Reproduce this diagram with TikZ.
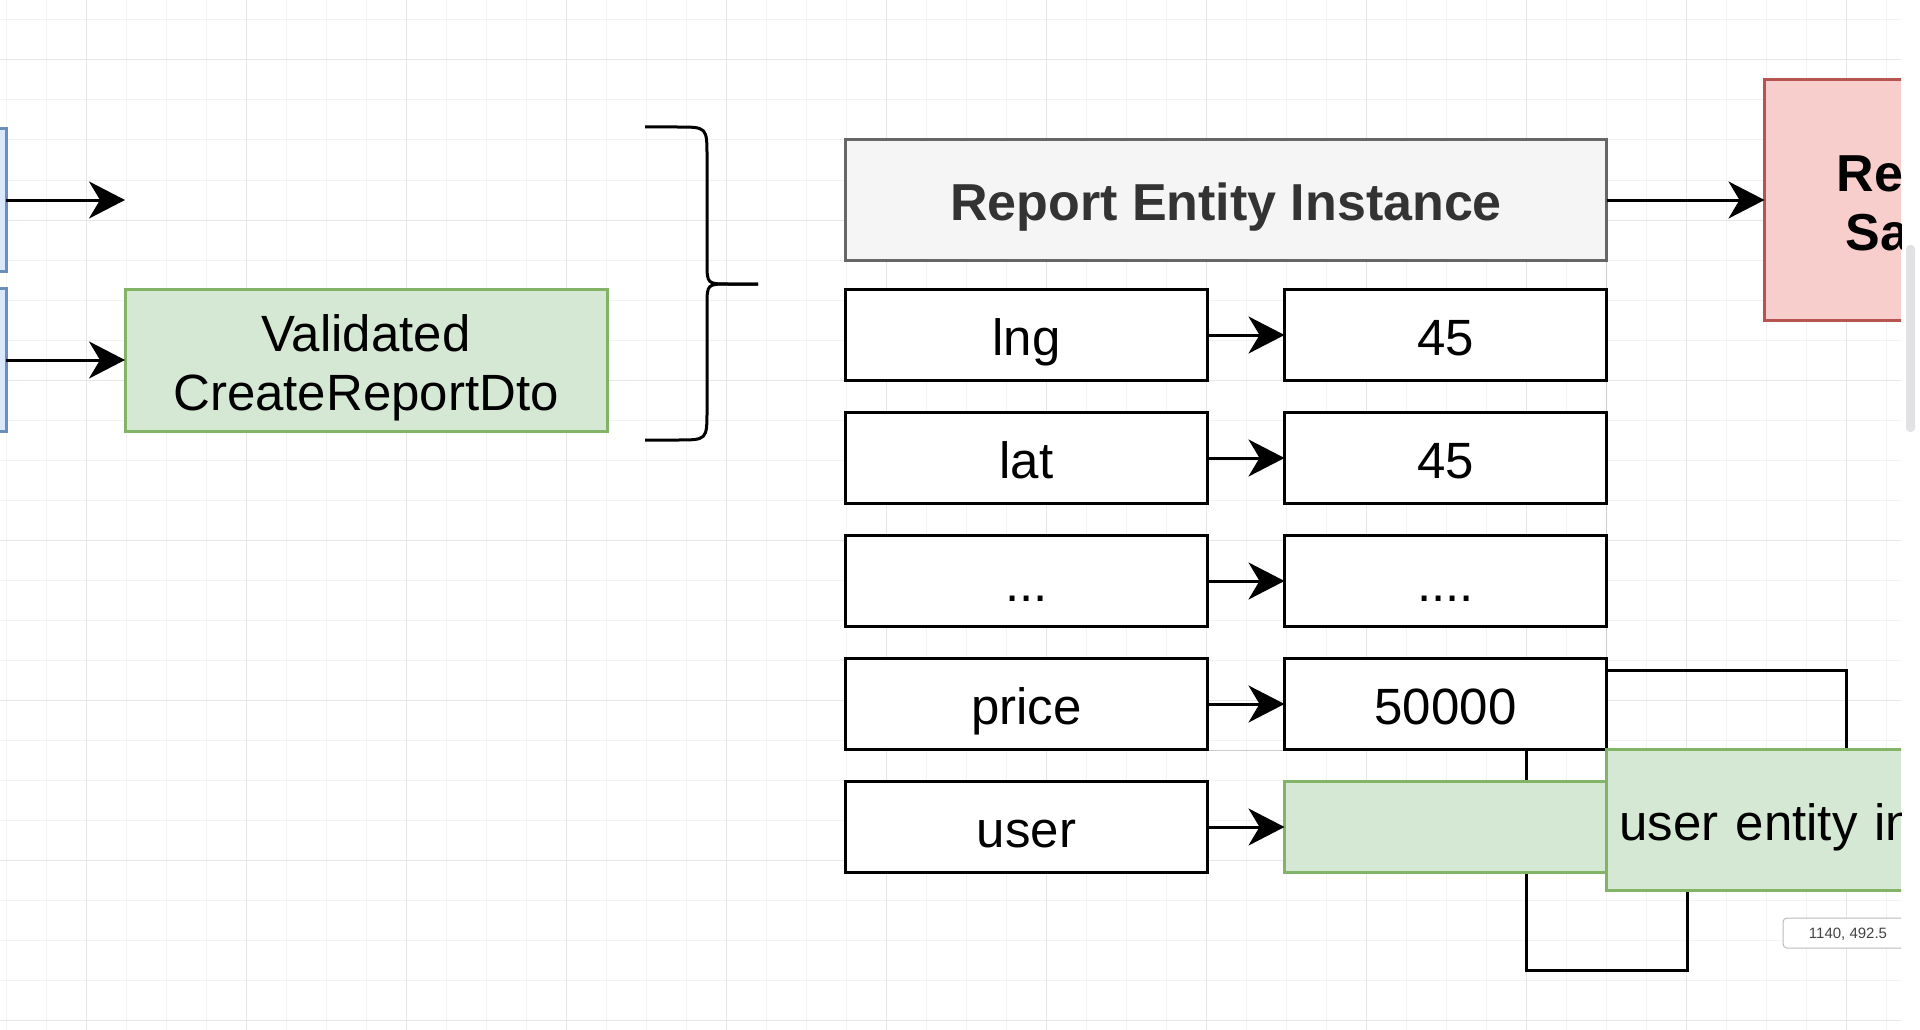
\documentclass[tikz,border=0pt]{standalone}
\usepackage{fontspec}
\setmainfont{Liberation Sans}
\usetikzlibrary{matrix,positioning,arrows.meta}
\definecolor{blueFill}{HTML}{DAE8FC}
\definecolor{blueLine}{HTML}{6C8EBF}
\definecolor{greenFill}{HTML}{D5E8D4}
\definecolor{greenLine}{HTML}{82B366}
\definecolor{redFill}{HTML}{F8CECC}
\definecolor{redLine}{HTML}{B85450}
\definecolor{headFill}{HTML}{F5F5F5}
\definecolor{headLine}{HTML}{666666}
\definecolor{headText}{HTML}{333333}
\definecolor{gridA}{HTML}{F3F3F3}
\definecolor{gridB}{HTML}{E6E6E6}
\definecolor{guideLine}{HTML}{CCCCCC}
\definecolor{tipLine}{HTML}{BBBBBB}
\definecolor{tipText}{HTML}{444444}
\definecolor{scrollFill}{HTML}{E2E2E4}
\tikzset{
  box/.style={draw,line width=3pt,minimum height=91pt,inner sep=0pt,outer sep=0pt,
    font=\fontsize{51}{59}\selectfont,text height=45pt,text depth=5pt},
  keybox/.style={box,fill=white,minimum width=362pt},
  valbox/.style={box,fill=white,minimum width=322pt},
  userval/.style={valbox,fill=greenFill,draw=greenLine},
  boldtext/.style={font=\bfseries\fontsize{52}{59}\selectfont},
  arr/.style={line width=3pt,-{Stealth[length=36pt,width=37pt,inset=11pt]}},
  gridmin/.style={draw=gridA,line width=1pt},
  gridmaj/.style={draw=gridB,line width=1pt},
  guide/.style={draw=guideLine,line width=1pt},
  brace/.style={line width=3pt}
}
\begin{document}
\begin{tikzpicture}[x=1pt,y=-1pt]
\useasboundingbox (0,0) rectangle (1920,1030);
\fill[white] (0,0) rectangle (1920,1030);
\begin{scope}
\clip (0,0) rectangle (1901,1030);
\foreach \i in {0,...,47} \draw[gridmin] (6+40*\i,0) -- (6+40*\i,1030);
\foreach \j in {0,...,25} \draw[gridmin] (0,20+40*\j) -- (1901,20+40*\j);
\foreach \i in {0,...,11} \draw[gridmaj] (86+160*\i,0) -- (86+160*\i,1030);
\foreach \j in {0,...,6} \draw[gridmaj] (0,60+160*\j) -- (1901,60+160*\j);

\node[box,fill=blueFill,draw=blueLine,minimum width=100pt,minimum height=143pt,anchor=east] (inA) at (6,200) {};
\node[box,fill=blueFill,draw=blueLine,minimum width=100pt,minimum height=143pt,anchor=east] (inB) at (6,360) {};
\coordinate[right=119pt of inA.east] (tipA);
\node[box,fill=greenFill,draw=greenLine,minimum width=482pt,minimum height=142pt,align=center,
  text height=105pt,text depth=5pt,right=119pt of inB] (dto) {Validated\\CreateReportDto};
\draw[arr] (inA) -- (tipA);
\draw[arr] (inB) -- (dto);

\draw[brace] (645,127) -- (677,127) .. controls (707,127) .. (707,157) -- (707,262)
  .. controls (707,284) .. (729,284) -- (758,284);
\draw[brace] (758,284) -- (729,284) .. controls (707,284) .. (707,306) -- (707,410)
  .. controls (707,440) .. (677,440) -- (645,440);

\draw[guide] (1606,262) -- (1606,750) -- (845,750);
\draw[line width=3pt] (1606,670) -- (1846,670) -- (1846,760);
\draw[line width=3pt] (1526,740) -- (1526,970) -- (1687,970) -- (1687,880);

\matrix (m) [matrix of nodes,nodes in empty cells,anchor=north west,inner sep=0pt,outer sep=0pt,
  column sep=74pt,row sep=29pt,nodes={keybox,anchor=center},column 2/.style={nodes={valbox}}] at (844,288)
{
  lng & 45 \\
  lat & 45 \\
  ... & .... \\
  price & 50000 \\
  user & |[userval]| \\
};
\foreach \r in {1,...,5} \draw[arr] (m-\r-1) -- (m-\r-2);

\node[box,fill=headFill,draw=headLine,text=headText,boldtext,minimum width=761pt,minimum height=120pt,
  above=28pt of m.north] (head) {Report Entity Instance};
\node[box,fill=redFill,draw=redLine,boldtext,minimum height=241pt,text width=150pt,inner xsep=72pt,
  align=left,text height=30pt,text depth=48pt,right=158pt of head] (save) {Re\\\hspace*{9pt}Sa};
\draw[arr] (head) -- (save);

\node[box,fill=greenFill,draw=greenLine,minimum height=141pt,text width=300pt,inner xsep=13pt,
  align=left,anchor=north west] (usr) at (m-4-2.south east) {user entity in};

\node[draw=tipLine,fill=white,rounded corners=4pt,line width=1pt,minimum width=130pt,minimum height=30pt,
  inner sep=0pt,font=\fontsize{15}{17}\selectfont,text=tipText,text height=10pt,text depth=0pt] (tip) at (1848,933) {1140, 492.5};
\end{scope}
\fill[scrollFill,rounded corners=4pt] (1906,245) rectangle (1915,432);
\end{tikzpicture}
\end{document}
